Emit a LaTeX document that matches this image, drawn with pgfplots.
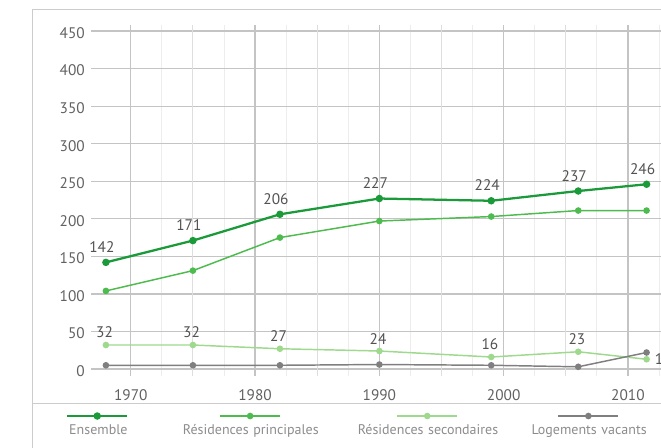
\documentclass[border=0pt]{standalone}
\usepackage{pgfplots}
\pgfplotsset{compat=1.18}
\usepackage{pgfplotstable}
\usepackage{fontspec}
\setmainfont{PT Sans}

\definecolor{ens}{HTML}{1B9A3A}
\definecolor{rp}{HTML}{4DBB4D}
\definecolor{rs}{HTML}{9ED98E}
\definecolor{lv}{HTML}{7F7F7F}
\definecolor{gridc}{HTML}{C4C4C4}
\definecolor{framec}{HTML}{CCCCCC}

% logements (milliers)
\pgfplotstableread{
year   ens  rp   rs  lv
1968   142  104  32  5
1975   171  131  32  5
1982   206  175  27  5
1990   227  197  24  6
1999   224  203  16  5
2006   237  211  23  3
2011.5 246  211  13  22
}\logements

% legend sample drawn above the centred text
\pgfplotsset{
  legimg/.style={legend image code/.code={%
    \path (0pt,0pt);%
    \draw[overlay,mark repeat=2,mark phase=2,##1] plot coordinates {(#1-22.5pt,11.25pt) (#1,11.25pt) (#1+22.5pt,11.25pt)};}},
}

\begin{document}
\begin{tikzpicture}
\begin{axis}[
  at={(68.25pt,53.4pt)}, anchor=south west,
  scale only axis, width=440pt, height=263.1pt,
  xmin=1966.8, xmax=2014, ymin=-9, ymax=458,
  axis line style={draw=none},
  major tick length=0pt, minor tick length=0pt,
  xtick={1970,1980,...,2010},
  ytick={0,50,...,450},
  minor xtick={1972.5,1977.5,...,2012.5},
  extra x ticks={1975,1985,1995,2005},
  extra x tick labels={},
  extra x tick style={major grid style={draw=black!13, line width=0.8pt}},
  xmajorgrids, ymajorgrids, xminorgrids,
  major grid style={draw=gridc, line width=0.9pt},
  minor grid style={draw=black!7, line width=0.6pt},
  ticklabel style={font=\fontsize{11.5}{13}\selectfont, text=black!62},
  x tick label style={/pgf/number format/1000 sep={}, anchor=north, inner sep=0pt, yshift=-10.5pt},
  y tick label style={anchor=east, inner sep=0pt, xshift=-4.5pt, yshift=-1.5pt},
  /pgf/number format/assume math mode=true,
  legend columns=4,
  legend style={at={(-0.094,-0.1574)}, anchor=west, draw=none, fill=none,
    inner sep=0pt, column sep=0pt,
    nodes={inner sep=0pt, text=black!45, font=\fontsize{10.5}{12}\selectfont,
      align=center, text height=7.5pt, text depth=2pt},
    cells={anchor=west}},
  mark size=1.9pt,
]
\addplot[ens, line width=1.7pt, mark=*, legimg=45pt,
  nodes near coords,
  nodes near coords style={font=\fontsize{11.5}{13}\selectfont, text=black!68,
    anchor=south, inner sep=0pt, yshift=6.5pt, xshift=-3pt}]
  table[x=year, y=ens] {\logements};
\addlegendentry[text width=90pt]{Ensemble}
\addplot[rp, line width=1.1pt, mark=*, legimg=68.25pt]
  table[x=year, y=rp] {\logements};
\addlegendentry[text width=136.5pt]{Résidences principales}
\addplot[rs, line width=1.1pt, mark=*, legimg=63.5pt]
  table[x=year, y=rs] {\logements};
\addlegendentry[text width=127pt]{Résidences secondaires}
\addplot[lv, line width=1.1pt, mark=*, legimg=56.25pt]
  table[x=year, y=lv] {\logements};
\addlegendentry[text width=112.5pt]{Logements vacants}
% labels of the second homes
\addplot[draw=none, forget plot, nodes near coords,
  x filter/.expression={x>2010 ? nan : x},
  nodes near coords style={font=\fontsize{11.5}{13}\selectfont, text=black!68,
    anchor=south, inner sep=0pt, yshift=5pt, xshift=-1pt}]
  table[x=year, y=rs] {\logements};
\addplot[draw=none, forget plot, nodes near coords,
  x filter/.expression={x<2010 ? nan : x},
  nodes near coords style={font=\fontsize{11.5}{13}\selectfont, text=black!68,
    anchor=west, inner sep=0pt, xshift=6pt}]
  table[x=year, y=rs] {\logements};
\end{axis}
\draw[framec, line width=0.75pt] (24pt,-15pt) -- (24pt,327.75pt) -- (540pt,327.75pt);
\draw[framec, line width=0.75pt] (24pt,33pt) -- (540pt,33pt);
\pgfresetboundingbox
\path (0pt,0pt) rectangle (495.75pt,335.25pt);
\end{tikzpicture}
\end{document}
